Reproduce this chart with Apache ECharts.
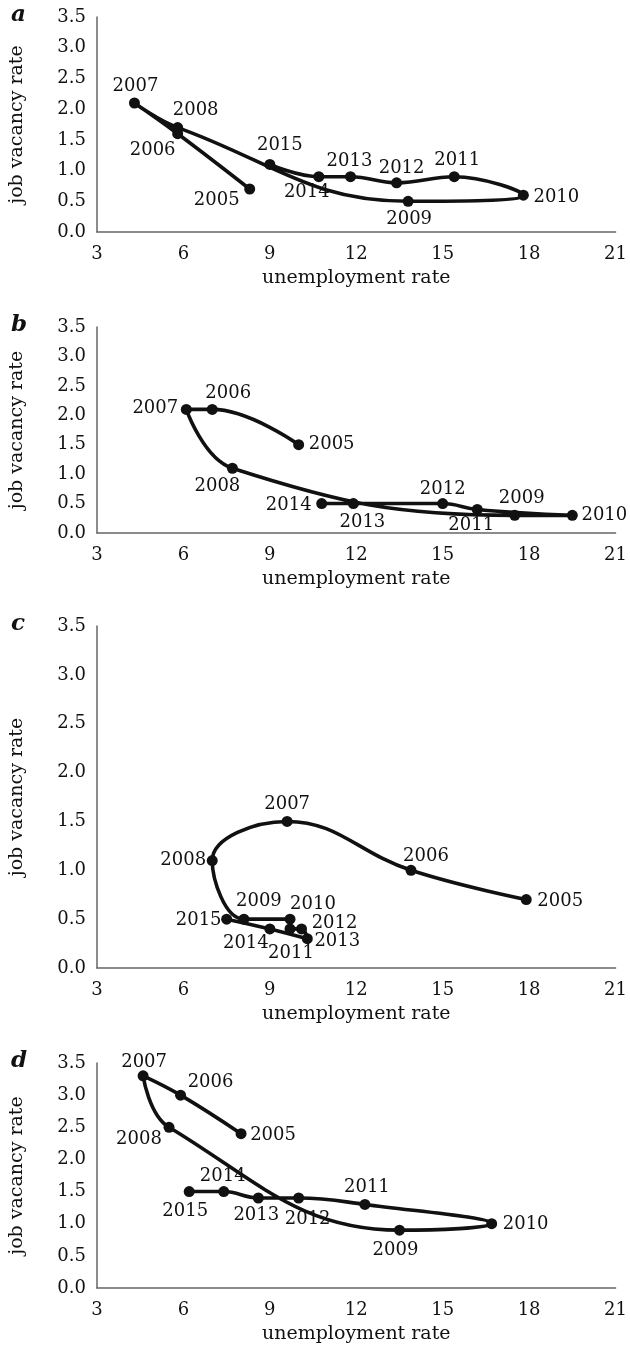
<!DOCTYPE html>
<html>
<head>
<meta charset="utf-8">
<script src="https://cdn.jsdelivr.net/npm/echarts@6/dist/echarts.min.js"></script>
<style>
html,body{margin:0;padding:0;background:#fff;}
#chart{width:630px;height:1345px;}
</style>
</head>
<body>
<div id="chart"></div>
<script>
// ---- data ----
const years = ['2005','2006','2007','2008','2009','2010','2011','2012','2013','2014','2015'];
const panelLetters = ['a','b','c','d'];

const unempA = [8.3, 5.8, 4.3, 5.8, 13.8, 17.8, 15.4, 13.4, 11.8, 10.7, 9.0];
const vacA   = [0.7, 1.6, 2.1, 1.7, 0.5, 0.6, 0.9, 0.8, 0.9, 0.9, 1.1];

const unempB = [10.0, 7.0, 6.1, 7.7, 17.5, 19.5, 16.2, 15.0, 11.9, 10.8];
const vacB   = [1.5, 2.1, 2.1, 1.1, 0.3, 0.3, 0.4, 0.5, 0.5, 0.5];

const unempC = [17.9, 13.9, 9.6, 7.0, 8.1, 9.7, 9.7, 10.1, 10.3, 9.0, 7.5];
const vacC   = [0.7, 1.0, 1.5, 1.1, 0.5, 0.5, 0.4, 0.4, 0.3, 0.4, 0.5];

const unempD = [8.0, 5.9, 4.6, 5.5, 13.5, 16.7, 12.3, 10.0, 8.6, 7.4, 6.2];
const vacD   = [2.4, 3.0, 3.3, 2.5, 0.9, 1.0, 1.3, 1.4, 1.4, 1.5, 1.5];

const xMin = 3, xMax = 21, xStep = 3;
const yMin = 0, yMax = 3.5, yStep = 0.5;
const xName = 'unemployment rate';
const yName = 'job vacancy rate';

// ---- layout / style (kept apart from data) ----
const FONT = '"DejaVu Serif", "Liberation Serif", serif';
const grids = [
  {left: 92, width: 524, top: 17,   height: 215},
  {left: 92, width: 524, top: 327,  height: 206},
  {left: 92, width: 524, top: 626,  height: 342},
  {left: 92, width: 524, top: 1063, height: 225}
];
// label centre offsets [dx, dy] from each point, in px
const labelOffsets = [
  [[-33,11],[-25,17],[1,-17],[18,-17],[1,18],[33,2],[3,-16],[5,-15],[-1,-15],[-12,16],[10,-19]],
  [[33,0],[16,-16],[-31,-1],[-15,18],[7,-17],[32,0],[-6,16],[0,-14],[9,19],[-33,2]],
  [[34,2],[15,-14],[0,-17],[-29,0],[15,-18],[23,-15],[1,24],[33,-6],[30,3],[-24,14],[-28,1]],
  [[32,2],[30,-13],[1,-14],[-30,12],[-4,20],[34,1],[2,-17],[9,21],[-2,17],[-1,-15],[-4,20]]
];

const panels = [[unempA, vacA], [unempB, vacB], [unempC, vacC], [unempD, vacD]];
const INK = '#111';

const option = {
  animation: false,
  backgroundColor: '#fff',
  title: panelLetters.map((t, i) => ({
    text: t, left: 11, top: grids[i].top - 13, padding: 0,
    textStyle: {fontFamily: FONT, fontStyle: 'italic', fontWeight: 'bold', fontSize: 23, color: INK}
  })),
  grid: grids.map(g => Object.assign({containLabel: false}, g)),
  xAxis: grids.map((g, i) => ({
    type: 'value', gridIndex: i, min: xMin, max: xMax, interval: xStep,
    name: xName, nameLocation: 'middle', nameGap: 37,
    nameTextStyle: {fontFamily: FONT, fontSize: 19, color: INK},
    axisLine: {show: true, onZero: false, lineStyle: {color: '#666', width: 1.5}},
    axisTick: {show: false},
    splitLine: {show: false},
    axisLabel: {fontFamily: FONT, fontSize: 18, color: INK, margin: 13}
  })),
  yAxis: grids.map((g, i) => ({
    type: 'value', gridIndex: i, min: yMin, max: yMax, interval: yStep,
    name: yName, nameLocation: 'middle', nameGap: 70, nameRotate: 90,
    nameTextStyle: {fontFamily: FONT, fontSize: 19, color: INK},
    axisLine: {show: true, onZero: false, lineStyle: {color: '#666', width: 1.5}},
    axisTick: {show: false},
    splitLine: {show: false},
    axisLabel: {fontFamily: FONT, fontSize: 18, color: INK, margin: 11,
      formatter: v => v.toFixed(1)}
  })),
  series: panels.map(([xs, ys], i) => ({
    type: 'line', xAxisIndex: i, yAxisIndex: i,
    smooth: 0.42,
    symbol: 'circle', symbolSize: 11,
    lineStyle: {color: INK, width: 3.6},
    itemStyle: {color: INK},
    data: xs.map((x, k) => ({
      value: [x, ys[k]],
      name: years[k],
      label: {show: true, position: 'inside', offset: labelOffsets[i][k],
        formatter: years[k], fontFamily: FONT, fontSize: 18, color: INK}
    }))
  }))
};

const chart = echarts.init(document.getElementById('chart'), null, {renderer: 'canvas'});
chart.setOption(option);
</script>
</body>
</html>
